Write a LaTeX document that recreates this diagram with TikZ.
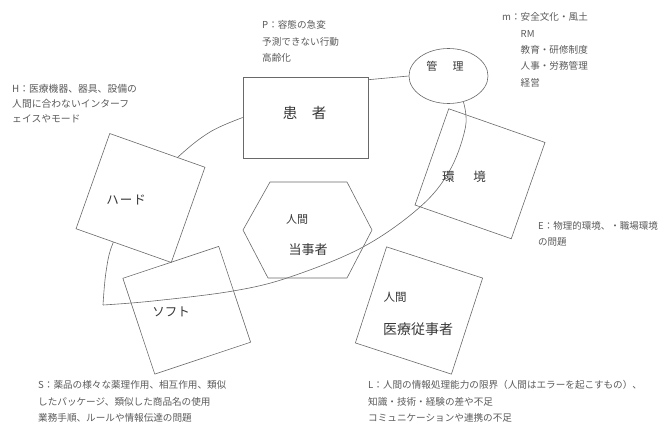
\documentclass[tikz,border=0pt]{standalone}
\usepackage{fontspec}
\setmainfont{Noto Sans CJK JP}
\usetikzlibrary{shapes.geometric}
\definecolor{ln}{RGB}{105,105,105}
\definecolor{tx}{RGB}{55,55,55}
\definecolor{ann}{RGB}{90,90,90}
\tikzset{
  box/.style={draw=ln, line width=0.6pt, minimum size=101pt, inner sep=0pt},
  lbl/.style={text=tx, inner sep=0pt},
  ann/.style={text=ann, inner sep=0pt, anchor=north west, align=left,
    font=\fontsize{9.6}{16.4}\selectfont},
  link/.style={draw=ln, line width=0.6pt}
}
\begin{document}
\begin{tikzpicture}[x=1pt,y=-1pt]
\useasboundingbox (0,0) rectangle (659,423);
% nodes (shapes)
\node[draw=ln, line width=0.6pt, fill=white, minimum width=125pt, minimum height=81pt] (kanja) at (305.5,117.5) {};
\node[draw=ln, line width=0.6pt, ellipse, minimum width=79pt, minimum height=55pt, inner sep=0pt] (kanri) at (448.5,76) {};
% big loop curve
\draw[link] plot[smooth, tension=0.6] coordinates {(kanri.-60) (465.5,127) (450,170) (420,207) (363,247) (290,277) (233,291) (153,301) (103,305)};
\draw[link] plot[smooth, tension=0.6] coordinates {(103,305) (106,272) (113,243) (135,200) (178,157) (210,132) (kanja.west)};
\draw[link] ([yshift=-3pt]kanja.north east) -- (kanri.west);
% rotated boxes
\node[box, fill=white, rotate=-19.5] (hard) at (140.5,198) {};
\node[box, rotate=18.4] (soft) at (186.75,310.25) {};
\node[box, minimum size=102pt, rotate=-19.3] (env) at (480,173.75) {};
\node[box, rotate=-18] (staff) at (419,310.5) {};
% hexagon
\coordinate (hexc) at (307.5,230);
\draw[link] (270,182) -- (347,182) -- (372,230) -- (347,278) -- (268,278) -- (243,230) -- cycle;
% labels
\node[lbl, font=\fontsize{14.5}{16}\selectfont] (tkanja) at (304.5,113) {患\hspace{1em}者};
\node[lbl, font=\fontsize{11}{13}\selectfont] (tkanri) at (445,66) {管\hspace{1.4em}理};
\node[lbl, font=\fontsize{12.5}{14}\selectfont] (thard) at (126,200) {ハ\hspace{1pt}ー\hspace{1pt}ド};
\node[lbl, font=\fontsize{12.5}{14}\selectfont] (tsoft) at (171,312) {ソフト};
\node[lbl, font=\fontsize{12.5}{14}\selectfont] (tenv) at (464,177) {環\hspace{1.5em}境};
\node[lbl, font=\fontsize{11}{13}\selectfont] (th1) at (297,219) {人間};
\node[lbl, font=\fontsize{13}{15}\selectfont] (th2) at (308,250) {当事者};
\node[lbl, font=\fontsize{11.5}{13}\selectfont] (ts1) at (395,297) {人間};
\node[lbl, font=\fontsize{14}{16}\selectfont] (ts2) at (418,329) {医療従事者};
% annotations
\node[ann] (annP) at (262,20.5) {P：容態の急変\\予測できない行動\\高齢化};
\node[ann] (annM) at (502,12.5) {m：安全文化・風土\\\phantom{m：}RM\\\phantom{m：}教育・研修制度\\\phantom{m：}人事・労務管理\\\phantom{m：}経営};
\node[ann, font=\fontsize{9.8}{15}\selectfont] (annH) at (12,84) {H：医療機器、器具、設備の\\人間に合わないインターフ\\ェイスやモード};
\node[ann, font=\fontsize{9.5}{16}\selectfont] (annE) at (538,221.5) {E：物理的環境、・職場環境\\の問題};
\node[ann] (annS) at (38,380.5) {S：薬品の様々な薬理作用、相互作用、類似\\したパッケージ、類似した商品名の使用\\業務手順、ルールや情報伝達の問題};
\node[ann] (annL) at (368,380.5) {L：人間の情報処理能力の限界（人間はエラーを起こすもの）、\\知識・技術・経験の差や不足\\コミュニケーションや連携の不足};
\end{tikzpicture}
\end{document}
